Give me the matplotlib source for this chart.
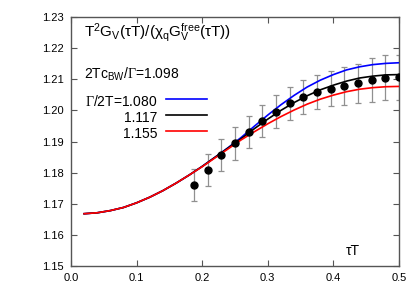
import matplotlib
matplotlib.use("Agg")
import matplotlib.pyplot as plt

plt.rcParams['font.family'] = ['Liberation Sans', 'DejaVu Sans']
plt.rcParams['mathtext.fontset'] = 'custom'
plt.rcParams['mathtext.rm'] = 'Liberation Sans'
plt.rcParams['mathtext.it'] = 'Liberation Sans:italic'
plt.rcParams['mathtext.sf'] = 'Liberation Serif'

# lattice data
tau_pts = [0.1875, 0.2083, 0.2292, 0.2500, 0.2708, 0.2917, 0.3125, 0.3333,
           0.3542, 0.3750, 0.3958, 0.4167, 0.4375, 0.4583, 0.4792, 0.5000]
g_pts = [1.1760, 1.1809, 1.1857, 1.1894, 1.1930, 1.1966, 1.1996, 1.2023,
         1.2044, 1.2060, 1.2069, 1.2078, 1.2087, 1.2098, 1.2105, 1.2106]
g_err = [0.0052, 0.0051, 0.0052, 0.0053, 0.0052, 0.0051, 0.0053, 0.0053,
         0.0055, 0.0055, 0.0056, 0.0060, 0.0063, 0.0070, 0.0072, 0.0073]

# fit curves
tau_c = [0.02, 0.04, 0.06, 0.08, 0.10, 0.12, 0.14, 0.16, 0.18, 0.20, 0.22, 0.24,
         0.26, 0.28, 0.30, 0.32, 0.34, 0.36, 0.38, 0.40, 0.42, 0.44, 0.46, 0.48, 0.50]
g_blue = [1.1668, 1.1671, 1.1678, 1.1688, 1.1703, 1.1721, 1.1742, 1.1766, 1.1792,
          1.1820, 1.1850, 1.1881, 1.1914, 1.1950, 1.1985, 1.2018, 1.2048, 1.2075,
          1.2097, 1.2115, 1.2130, 1.2140, 1.2147, 1.2151, 1.2153]
g_black = [1.1668, 1.1671, 1.1678, 1.1688, 1.1703, 1.1721, 1.1742, 1.1766, 1.1792,
           1.1820, 1.1850, 1.1880, 1.1910, 1.1942, 1.1972, 1.2000, 1.2025, 1.2047,
           1.2066, 1.2081, 1.2094, 1.2104, 1.2110, 1.2114, 1.2115]
g_red = [1.1668, 1.1671, 1.1678, 1.1688, 1.1703, 1.1721, 1.1742, 1.1766, 1.1792,
         1.1819, 1.1848, 1.1877, 1.1906, 1.1932, 1.1957, 1.1980, 1.2001, 1.2020,
         1.2036, 1.2049, 1.2060, 1.2068, 1.2073, 1.2076, 1.2077]
labels = [r'$\mathsf{\Gamma}$/2T=1.080', '1.117', '1.155']
colors = ['#0000ff', '#000000', '#ff0000']

xticks = [0.0, 0.1, 0.2, 0.3, 0.4, 0.5]
yticks = [1.15, 1.16, 1.17, 1.18, 1.19, 1.20, 1.21, 1.22, 1.23]

H = 294
fig = plt.figure(figsize=(4.2, 2.94), dpi=100)
ax = fig.add_axes([71/420, 1-266/H, 328/420, 249/H])

ax.errorbar(tau_pts, g_pts, yerr=g_err, fmt='none', ecolor='#909090',
            elinewidth=0.9, capsize=2, capthick=0.9, zorder=2)
ax.plot(tau_pts, g_pts, 'o', color='black', ms=5, zorder=5)

for y, c in zip([g_blue, g_black, g_red], colors):
    ax.plot(tau_c, y, color=c, lw=1.2, zorder=3)

ax.set_xlim(0.0, 0.5)
ax.set_ylim(1.15, 1.23)
ax.set_xticks(xticks)
ax.set_xticklabels([f'{t:.1f}' for t in xticks])
ax.set_yticks(yticks)
ax.set_yticklabels([f'{t:.2f}' for t in yticks])
ax.tick_params(direction='in', top=True, right=True, length=4, width=0.8,
               color='#555555', labelsize=8, pad=5)
for s in ax.spines.values():
    s.set_color('#555555')
    s.set_linewidth(1.0)

def ftext(x, y, s, size, ha='left'):
    ax.annotate(s, xy=(x, H - y), xycoords='figure pixels', fontsize=size,
                va='baseline', ha=ha)

ftext(84, 37.3, r'T$^2$G$_\mathrm{V}$(τT)/(χ$_\mathrm{q}$G$_\mathrm{V}^\mathrm{free}$(τT))', 11)
ftext(84, 78.3, r'2Tc$_\mathrm{BW}$/$\mathsf{\Gamma}$=1.098', 10)
ftext(346, 255, 'τT', 10)

rows = [99, 115, 131]
for lab, c, r in zip(labels, colors, rows):
    ftext(157, r + 7, lab, 10, ha='right')
    fig.add_artist(plt.Line2D([166/420, 206.7/420], [1 - r/H, 1 - r/H],
                              color=c, lw=1.2))

fig.savefig('out.png', dpi=100)
